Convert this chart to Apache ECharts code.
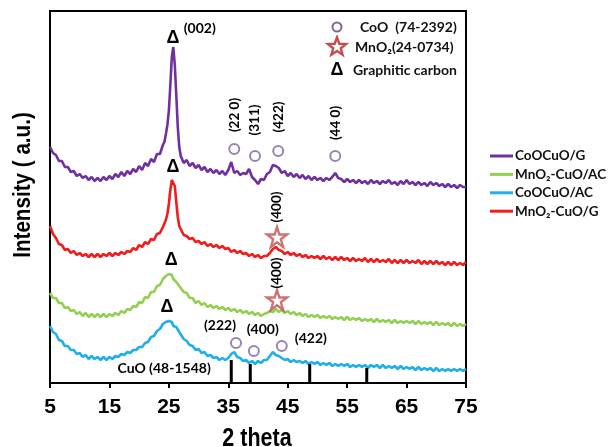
<!DOCTYPE html>
<html><head><meta charset="utf-8">
<script src="https://cdn.jsdelivr.net/npm/echarts@6/dist/echarts.min.js"></script>
<style>html,body{margin:0;padding:0;background:#fff}#c{width:611px;height:447px}</style>
</head><body><div id="c"></div>
<script>
const twoTheta = [5,5.5,6,6.5,7,7.5,8,8.5,9,9.5,10,10.5,11,11.5,12,12.5,13,13.5,14,14.5,15,15.5,16,16.5,17,17.5,18,18.5,19,19.5,20,20.5,21,21.5,22,22.5,23,23.5,24,
24.25,24.5,24.75,25,25.25,25.5,25.75,26,26.25,26.5,26.75,27,
27.5,28,28.5,29,29.5,30,30.5,31,31.5,32,32.5,33,33.5,34,34.5,35,35.5,36,36.5,37,37.5,38,38.5,39,39.5,40,40.5,41,41.5,42,42.5,43,43.5,44,44.5,45,45.5,46,46.5,47,47.5,48,48.5,49,49.5,50,50.5,51,51.5,52,52.5,53,53.5,54,54.5,55,55.5,56,56.5,57,57.5,58,58.5,59,59.5,60,60.5,61,61.5,62,62.5,63,63.5,64,64.5,65,65.5,66,66.5,67,67.5,68,68.5,69,69.5,70,70.5,71,71.5,72,72.5,73,73.5,74,74.5,75];

const coocuoG = [236,230,228,222,222,216,216,211,212,207,209,205,207,203,206,202,205,202,206,203,207,204,209,206,211,207,212,209,214,211,217,213,220,217,224,221,229,229,238,
241,249,258,272,298,326,336,318,288,256,236,227,
220,223,217,220,215,218,213,216,211,214,210,213,209,212,208,213,221,210,212,208,210,209,214,206,203,199,204,203,209,211,218,217,215,210,212,207,210,206,209,205,208,204,207,203,206,203,205,202,205,203,206,210,205,204,201,204,201,203,200,203,200,202,199,203,200,202,199,202,200,203,199,201,198,202,199,203,199,201,198,201,198,200,197,201,198,200,197,199,196,199,196,198,195,198,196,196];

const mno2cuoG = [157,149,145,139,138,133,134,130,132,128,130,127,129,126,129,126,129,126,129,127,130,127,130,128,131,129,132,131,135,133,138,136,141,139,144,143,149,150,156,
158,163,169,179,193,203,205,197,181,166,157,154,
148,147,144,145,141,142,139,141,137,139,136,138,135,137,134,135,131,133,130,132,129,130,127,129,126,128,125,127,127,130,134,136,133,132,129,131,128,130,127,129,126,128,125,127,125,127,124,127,124,126,123,126,123,126,123,125,122,125,122,124,122,125,121,124,121,124,121,123,121,124,120,123,120,123,120,123,120,122,120,123,119,122,119,122,119,122,119,121,118,121,118,121,118,120,118,121];

const mno2cuoAC = [90,85,85,80,80,75,76,72,73,69,71,67,70,66,69,66,69,66,69,66,69,67,70,68,72,70,74,73,77,76,81,80,86,85,91,91,97,98,104,
103,107,106,109,107,108,104,105,101,101,97,97,
91,90,85,85,80,82,78,80,76,78,75,77,74,76,73,75,72,74,71,73,70,72,69,71,68,70,67,69,70,72,71,74,71,73,70,72,69,71,68,70,67,69,66,68,66,68,65,67,65,67,64,66,64,66,63,66,63,65,63,65,62,64,62,64,61,64,61,63,61,63,60,63,60,62,60,62,60,62,59,62,59,61,59,61,58,61,58,60,58,60,57,60,57,59,57,59];

const coocuoAC = [57,51,49,43,42,37,37,33,33,29,30,26,28,24,27,24,26,23,26,23,26,24,27,26,29,28,31,30,33,33,36,36,40,41,46,47,52,54,59,
58,61,59,62,60,61,57,59,56,56,51,50,
44,42,38,37,33,34,30,31,27,28,25,26,23,25,23,25,29,31,26,25,22,23,20,22,19,22,20,23,23,27,31,28,27,25,23,24,21,23,21,22,20,22,19,21,19,21,18,20,18,20,17,19,17,19,17,19,16,18,16,18,16,18,15,18,16,18,15,18,15,17,15,17,14,17,14,16,14,16,13,16,13,15,13,15,12,15,12,14,12,14,12,14,12,14,12,14];

const seriesNames = ['CoOCuO/G','MnO\u2082-CuO/AC','CoOCuO/AC','MnO\u2082-CuO/G'];
const seriesColors = ['#7030A0','#92D050','#1FB0EC','#F21C1C'];

const cuoRefTheta = [35.5, 38.7, 48.7, 58.3];
const cuoRefHeight = [23, 19, 19, 15];

const graphiteMarks = [[25.7,345],[25.7,216],[25.4,123],[24.7,76]];
const cooMarks = [[36.0,234],[39.5,227],[43.4,232],[53.0,227],[36.3,40],[39.3,32],[44.0,37]];
const mno2Marks = [[43.2,146],[43.2,83]];
const rotatedLabels = [[36.0,268,'(22 0)'],[39.5,263,'(311)'],[43.4,266,'(422)'],[53.0,260,'(44 0)'],[43.2,176,'(400)'],[43.2,110,'(400)']];
const flatLabels = [[30.2,355,'(002)'],[33.6,58,'(222)'],[40.8,54,'(400)'],[48.9,45,'(422)'],[24.2,15,'CuO (48-1548)']];

const pairs = ys => twoTheta.map((t,i)=>[t, ys[i]]);
const curves = [coocuoG, mno2cuoAC, coocuoAC, mno2cuoG];

const starPath = 'path://M50,2 L61,36 L97,36 L68,57 L79,92 L50,71 L21,92 L32,57 L3,36 L39,36 Z';
function starPts(cx, cy, R, r){
  const p=[]; for(let k=0;k<10;k++){const a=-Math.PI/2+k*Math.PI/5; const rr=k%2?r:R; p.push([cx+rr*Math.cos(a), cy+rr*Math.sin(a)]);} return p;
}
const BOLD = 'Lato, "Open Sans", sans-serif';
const ARIAL = '"Liberation Sans", Arial, sans-serif';
const lbl = {show:true, position:'inside', fontWeight:'bold', color:'#000', fontFamily:BOLD, textBorderWidth:0, textShadowBlur:0, opacity:1};

const chart = echarts.init(document.getElementById('c'));
const series = curves.map((ys,i)=>({
  name: seriesNames[i], type:'line', data: pairs(ys), symbol:'none', smooth:false,
  lineStyle:{color:seriesColors[i], width:2.6}, itemStyle:{color:seriesColors[i]}, z:3
}));
series.push({
  type:'bar', data: cuoRefTheta.map((t,i)=>[t, cuoRefHeight[i]]), barWidth:3,
  itemStyle:{color:'#000'}, z:4, silent:true
});
series.push({
  type:'scatter', data: cooMarks, symbol:'circle', symbolSize:10,
  itemStyle:{color:'rgba(255,255,255,0)', borderColor:'#8064A2', borderWidth:2}, z:5
});
series.push({
  type:'scatter', data: mno2Marks, symbol: starPath, symbolSize:20,
  itemStyle:{color:'rgba(255,255,255,0)', borderColor:'#C0504D', borderWidth:2.4}, z:5
});
series.push({
  type:'scatter', data: graphiteMarks, symbol:'circle', symbolSize:1, itemStyle:{color:'#fff', opacity:1},
  label:Object.assign({}, lbl, {formatter:'\u0394', fontSize:18, fontFamily:ARIAL}), z:6
});
series.push({
  type:'scatter', data: rotatedLabels, symbol:'circle', symbolSize:1, itemStyle:{color:'#fff', opacity:1},
  label:Object.assign({}, lbl, {rotate:90, formatter:p=>p.value[2], fontSize:13.5}), z:6
});
series.push({
  type:'scatter', data: flatLabels, symbol:'circle', symbolSize:1, itemStyle:{color:'#fff', opacity:1},
  label:Object.assign({}, lbl, {formatter:p=>p.value[2], fontSize:14}), z:6
});

chart.setOption({
  animation:false,
  backgroundColor:'#fff',
  grid:{left:50, right:145, top:11, bottom:64, show:true, borderColor:'#000', borderWidth:2, containLabel:false},
  xAxis:{type:'value', min:5, max:75, interval:10,
    axisLine:{show:true, lineStyle:{color:'#000', width:2}},
    axisTick:{show:true, inside:false, length:5, lineStyle:{color:'#000', width:2}},
    axisLabel:{fontSize:21, fontWeight:'bold', color:'#000', margin:14, fontFamily:ARIAL},
    splitLine:{show:false}},
  yAxis:{type:'value', min:0, max:372, axisLabel:{show:false}, axisTick:{show:false}, splitLine:{show:false},
    axisLine:{show:true, lineStyle:{color:'#000', width:2}}},
  legend:{data:seriesNames, orient:'vertical', left:490, top:149, icon:'rect', itemWidth:23, itemHeight:3, itemGap:4.4,
    textStyle:{fontSize:13.5, fontWeight:'bold', color:'#111', fontFamily:BOLD, lineHeight:14, padding:[0,0,0,-3]}, padding:0},
  graphic:[
    {type:'text', x:35, y:185, rotation:Math.PI/2, scaleX:0.86, scaleY:1,
      style:{text:'Intensity ( a.u.)', font:'bold 24px '+ARIAL, fill:'#000', align:'center', verticalAlign:'bottom'}},
    {type:'text', x:257, y:452, scaleX:0.86,
      style:{text:'2 theta', font:'bold 25px '+ARIAL, fill:'#000', align:'center', verticalAlign:'bottom'}},
    {type:'circle', shape:{cx:337, cy:27, r:4.5}, style:{fill:'none', stroke:'#8064A2', lineWidth:2}, z:10},
    {type:'polygon', shape:{points:starPts(337,47,9.5,4)}, style:{fill:'none', stroke:'#C0504D', lineWidth:2.4}, z:10},
    {type:'text', x:337, y:70, style:{text:'\u0394', font:'bold 18px '+ARIAL, fill:'#000', align:'center', verticalAlign:'middle'}, z:10},
    {type:'text', x:360, y:27, style:{text:'CoO  (74-2392)', font:'bold 14px '+BOLD, fill:'#111', verticalAlign:'middle'}, z:10},
    {type:'text', x:355, y:47, style:{text:'MnO\u2082(24-0734)', font:'bold 14px '+BOLD, fill:'#111', verticalAlign:'middle'}, z:10},
    {type:'text', x:353, y:70, style:{text:'Graphitic carbon', font:'bold 14px '+BOLD, fill:'#111', verticalAlign:'middle'}, z:10}
  ],
  series: series
});
</script></body></html>
